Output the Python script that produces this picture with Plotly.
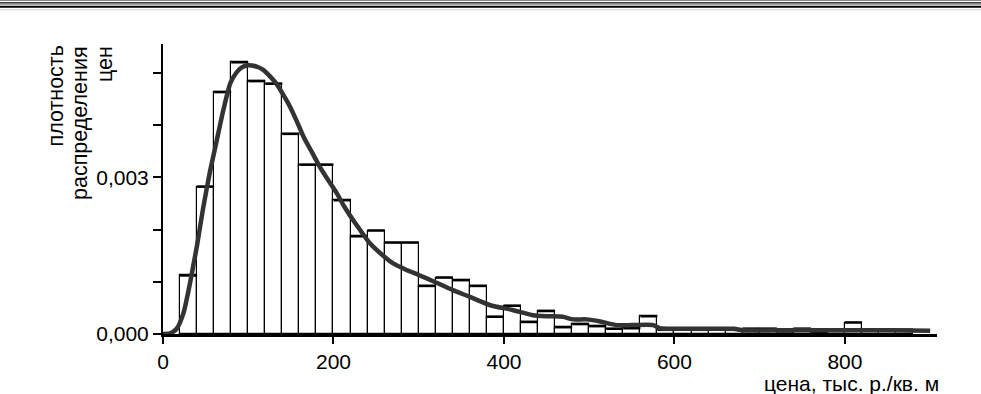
import plotly.graph_objects as go

# ---- data ----
bin_width = 20
bin_left = list(range(20, 880, 20))
density = [0.00112, 0.00282, 0.00463, 0.00520, 0.00484, 0.00479, 0.00383, 0.00324,
           0.00324, 0.00256, 0.00187, 0.00198, 0.00175, 0.00175, 0.00092, 0.00108,
           0.00103, 0.00092, 0.00033, 0.00054, 0.00023, 0.00044, 0.00013, 0.00019,
           0.00015, 0.00010, 0.00011, 0.00034, 0.00008, 0.00009, 0.00008, 0.00009,
           0.00008, 0.00010, 0.00010, 0.00005, 0.00010, 0.00004, 0.00006, 0.00022,
           0.00008, 0.00008, 0.00008]

curve_x = [0, 8, 16, 24, 32, 36, 40, 47, 55, 63, 71, 79, 86, 92, 98, 104, 111, 118,
           125, 133, 141, 149, 157, 165, 175, 184, 194, 204, 213, 223, 233, 243, 256,
           270, 285, 300, 317, 340, 360, 384, 410, 434, 452, 469, 481, 497, 513, 532,
           550, 575, 583, 600, 620, 650, 670, 680, 720, 760, 800, 850, 900]
curve_y = [0.0, 0.00001, 0.0001, 0.0004, 0.0010, 0.00135, 0.0017, 0.0024, 0.0031,
           0.0037, 0.0043, 0.0048, 0.00500, 0.00510, 0.00514, 0.00514, 0.00511, 0.00505,
           0.00494, 0.00479, 0.00458, 0.00435, 0.00407, 0.00377, 0.00347, 0.00320,
           0.00294, 0.00269, 0.00243, 0.00218, 0.00195, 0.00173, 0.00153, 0.00135,
           0.00123, 0.00113, 0.00101, 0.00084, 0.00071, 0.00055, 0.00046, 0.00036,
           0.00034, 0.00033, 0.00028, 0.00028, 0.00024, 0.00017, 0.00017, 0.00017,
           0.00011, 0.00010, 0.00010, 0.00010, 0.00010, 0.00007, 0.00007, 0.00007,
           0.00007, 0.00007, 0.00006]

x_ticks = [0, 200, 400, 600, 800]
x_ticktext = ["0", "200", "400", "600", "800"]
y_ticks = [0, 0.001, 0.002, 0.003, 0.004, 0.005]
y_ticktext = ["0,000", "", "", "0,003", "", ""]

y_label_lines = ["плотность", "распределения", "цен"]
x_label = "цена, тыс. р./кв. м"

# ---- layout geometry ----
W, H = 981, 394
ML, MR, MT, MB = 163, 44, 44, 60
PW, PH = W - ML - MR, H - MT - MB
FONT = "Liberation Sans, Arial, sans-serif"

def px_x(p):
    return (p - ML) / PW

def px_y(p):
    return (H - MB - p) / PH

centers = [l + bin_width / 2 for l in bin_left]

# thick bar-top segments derived from data
top_x, top_y = [], []
for l, d in zip(bin_left, density):
    top_x += [l, l + bin_width, None]
    top_y += [d, d, None]

fig = go.Figure()
fig.add_trace(go.Bar(x=centers, y=density, width=bin_width,
                     marker=dict(color="white", line=dict(color="black", width=1.2)),
                     hoverinfo="skip"))
fig.add_trace(go.Scatter(x=top_x, y=top_y, mode="lines",
                         line=dict(color="black", width=2.5), hoverinfo="skip"))
fig.add_trace(go.Scatter(x=curve_x, y=curve_y, mode="lines",
                         line=dict(color="#333333", width=4.5, shape="spline", smoothing=0.6),
                         hoverinfo="skip"))

shapes = []
# decorative top border lines
for ypix, col, w in [(0.5, "#888888", 1.2), (2.8, "black", 1.2), (4.4, "#999999", 1),
                     (6.8, "black", 2), (9.6, "#dddddd", 1.2)]:
    shapes.append(dict(type="line", xref="paper", yref="paper",
                       x0=px_x(0), x1=px_x(W), y0=px_y(ypix), y1=px_y(ypix),
                       line=dict(color=col, width=w)))

annotations = []
for xp, txt in zip([55, 80, 105], y_label_lines):
    annotations.append(dict(text=txt, xref="paper", yref="paper", x=px_x(xp), y=1.0,
                            xanchor="center", yanchor="top", textangle=-90,
                            showarrow=False, font=dict(family=FONT, size=21.5, color="black")))
annotations.append(dict(text=x_label, xref="paper", yref="paper", x=px_x(941), y=px_y(383),
                        xanchor="right", yanchor="middle", showarrow=False,
                        font=dict(family=FONT, size=21, color="black")))

fig.update_layout(
    width=W, height=H, margin=dict(l=ML, r=MR, t=MT, b=MB, pad=0),
    paper_bgcolor="white", plot_bgcolor="white", showlegend=False,
    bargap=0, shapes=shapes, annotations=annotations,
    font=dict(family=FONT, size=21, color="black"),
    xaxis=dict(range=[0, 908], tickvals=x_ticks, ticktext=x_ticktext, ticks="outside",
               ticklen=7, tickwidth=1.5, tickcolor="black", showline=True, linecolor="black",
               linewidth=3, showgrid=False, zeroline=False, tickfont=dict(size=21)),
    yaxis=dict(range=[0, 0.00555], tickvals=y_ticks, ticktext=y_ticktext, ticks="outside",
               ticklen=8, tickwidth=1.5, tickcolor="black", showline=True, linecolor="black",
               linewidth=2, showgrid=False, zeroline=False, tickfont=dict(size=21)),
)

fig.write_html("out.html", config={"displayModeBar": False},
               post_script="document.body.style.margin='0';document.body.style.padding='0';"
                           "document.documentElement.style.overflow='hidden';")
